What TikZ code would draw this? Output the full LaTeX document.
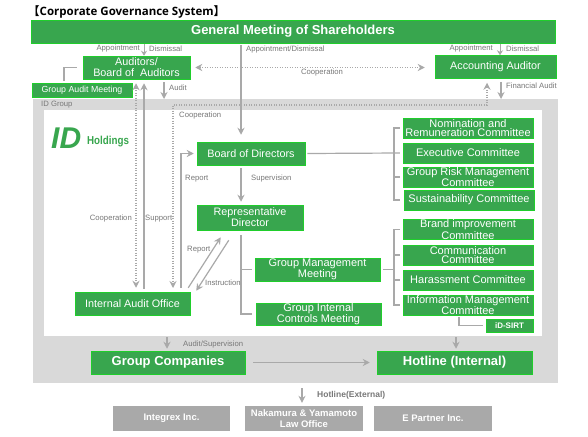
\documentclass[tikz,border=0pt]{standalone}
\usepackage{fontspec}
\setmainfont{Liberation Sans}
\newfontfamily\titlefont{Open Sans}
\newfontfamily\cjk{Noto Sans CJK JP}
\usepackage{xcolor}
\usetikzlibrary{arrows.meta, positioning, calc}
\definecolor{idgreen}{HTML}{38A64E}
\definecolor{idline}{HTML}{A9A9A9}
\definecolor{idtext}{HTML}{787878}
\definecolor{idband}{HTML}{D9D9D9}
\begin{document}
\begin{tikzpicture}[x=1pt,y=-1pt]
\tikzset{
  gb/.style={rectangle,draw=green!45!idgreen,line width=0.5pt,fill=idgreen,text=white,align=center,inner sep=0pt},
  big/.style={gb,font=\fontsize{13}{13}\selectfont\bfseries},
  mid/.style={gb,font=\fontsize{10.8}{11}\selectfont},
  cmte/.style={gb,minimum width=130pt,minimum height=20pt,font=\fontsize{11}{9.8}\selectfont},
  ext/.style={rectangle,draw=none,fill=idline,text=white,align=center,inner sep=0pt,minimum width=118pt,minimum height=25pt,font=\fontsize{9.5}{11.5}\selectfont\bfseries},
  lb/.style={inner sep=0pt,text=idtext,font=\fontsize{7.7}{8}\selectfont},
  ar/.style={-{Stealth[length=7pt,width=7pt]},line width=1.2pt,draw=idline},
  ars/.style={-{Stealth[length=5pt,width=6pt]},line width=0.9pt,draw=idline},
  dt/.style={line width=1.2pt,draw=idline,dash pattern=on 1.2pt off 1.3pt},
  br/.style={line width=1.2pt,draw=idline}
}
\useasboundingbox (0,0) rectangle (588,436);
\fill[white] (0,0) rectangle (588,436);
% frame of the group
\node[rectangle,fill=idband,minimum width=525pt,minimum height=284pt,inner sep=0pt] (idg) at (295.5,241) {};
\node[rectangle,fill=white,minimum width=498pt,minimum height=226pt,inner sep=0pt] (inr) at (293,223) {};
\node[lb,text=idtext,anchor=west] (idl) at (41,105) {ID Group};
% logo
\node[inner sep=0pt,anchor=west,text=idgreen,font=\fontsize{30}{30}\selectfont\bfseries\itshape] (lg) at (51,138) {ID};
\node[inner sep=0pt,anchor=west,text=idgreen,xscale=0.85,font=\fontsize{11.5}{12}\selectfont\bfseries] (lh) at (87,142) {Holdings};
% title
\node[inner sep=0pt,anchor=west,font=\fontsize{11.5}{12}\selectfont\titlefont\bfseries] (ttl) at (28,12) {{\cjk 【}Corporate Governance System{\cjk 】}};
% boxes
\node[big,minimum width=524pt,minimum height=23pt] (gm) at (293,31.5) {General Meeting of Shareholders};
\node[mid,minimum width=107pt,minimum height=23pt] (aud) at (136.5,67.5) {Auditors/\\Board of\ \ Auditors};
\node[gb,minimum width=100pt,minimum height=14pt,font=\fontsize{8.8}{10}\selectfont] (gam) at (82,90) {Group Audit Meeting};
\node[mid,minimum width=121pt,minimum height=23pt] (acc) at (495.5,67) {Accounting Auditor};
\node[mid,minimum width=108pt,minimum height=23pt] (bod) at (251,153.5) {Board of Directors};
\node[mid,minimum width=106pt,minimum height=25pt] (rep) at (250,217.5) {Representative\\Director};
\node[mid,minimum width=115pt,minimum height=23pt] (iao) at (132.5,303.5) {Internal Audit Office};
\node[gb,minimum width=125pt,minimum height=23pt,font=\fontsize{11}{9}\selectfont] (gmm) at (317.5,269.5) {Group Management\\Meeting};
\node[gb,minimum width=125pt,minimum height=22pt,font=\fontsize{11}{9}\selectfont] (gic) at (318.5,314) {Group Internal\\Controls Meeting};
\node[cmte] (c1) at (468,128) {Nomination and\\Remuneration Committee};
\node[cmte] (c2) at (468,153) {Executive Committee};
\node[cmte] (c3) at (468,177) {Group Risk Management\\Committee};
\node[cmte] (c4) at (469,200) {Sustainability Committee};
\node[cmte] (c5) at (468,229.5) {Brand improvement\\Committee};
\node[cmte] (c6) at (468,255) {Communication\\Committee};
\node[cmte] (c7) at (468,280) {Harassment Committee};
\node[cmte] (c8) at (468,305) {Information Management\\Committee};
\node[gb,minimum width=47pt,minimum height=13pt,font=\fontsize{8}{8}\selectfont\bfseries] (sirt) at (509.5,325.5) {iD-SIRT};
\node[big,minimum width=154pt,minimum height=23pt] (grp) at (168,362.5) {Group Companies};
\node[big,minimum width=155pt,minimum height=23pt] (hot) at (454.5,362.5) {Hotline (Internal)};
\node[ext,minimum width=117pt] (e1) at (171.5,418.5) {Integrex Inc.};
\node[ext] (e2) at (304,418.5) {Nakamura \& Yamamoto\\Law Office};
\node[ext] (e3) at (433,418.5) {E Partner Inc.};
% lanes
\coordinate (xs) at (144,0);
\coordinate (xc) at (136,0);
\coordinate (xb) at (241,0);
\coordinate (xa) at (500,0);
\coordinate (xf) at (501,0);
\coordinate (xd) at (487,0);
\coordinate (xg) at (173,0);
\coordinate (xr) at (181,0);
\coordinate (xu) at (164,0);
\coordinate (xl) at (64,0);
\coordinate (xq) at (459,0);
\coordinate (yt) at (0,105);
\coordinate (yp) at (0,288);
\coordinate (yg) at (0,99);
\coordinate (yh) at (0,337);
\coordinate (yx) at (0,388);
\coordinate (br1) at (394,0);
\coordinate (br2) at (241,0);
% arrows from the meeting
\draw[ars,shorten <=1pt] (gm.south -| xs) -- (aud.north -| xs);
\draw[ar,shorten <=2pt,shorten >=7pt] (gm.south -| xb) -- (bod.north -| xb);
\draw[ars,shorten <=1pt] (gm.south -| xa) -- (acc.north -| xa);
\draw[dt,{Stealth[length=7pt,width=7pt]}-{Stealth[length=7pt,width=7pt]},shorten <=5pt,shorten >=10pt] (aud.east) -- (aud.east -| acc.west);
\draw[ar,shorten <=3pt] (aud.south -| xu) -- (xu |- yg);
\draw[ar,shorten <=3pt] (acc.south -| xf) -- (xf |- yg);
\draw[br,shorten <=2pt,shorten >=6pt] (gam.north -| xl) |- (aud.west);
% cooperation and audit lanes
\draw[dt,{Stealth[length=7pt,width=7pt]}-{Stealth[length=7pt,width=7pt]},shorten <=4pt] (acc.south -| xd) -- (xd |- yt) -- (xg |- yt) -- (xg |- yp);
\draw[dt,{Stealth[length=7pt,width=7pt]}-{Stealth[length=7pt,width=7pt]},shorten <=4pt,shorten >=4pt] (aud.south -| xc) -- (iao.north -| xc);
\draw[ar,shorten <=3pt,shorten >=4pt] (iao.north -| xs) -- (aud.south -| xs);
\draw[ar,shorten <=4pt,shorten >=3pt] (iao.north -| xr) |- (bod.west);
\draw[ar,shorten <=3pt,shorten >=3pt] (bod.south -| xb) -- (rep.north -| xb);
\draw[ar] ($(iao.north east)+(-2,-4)$) -- ($(rep.south west)+(24,7)$);
\draw[ar] ($(rep.south west)+(32,10)$) -- ($(iao.north east)+(6,-1)$);
% brackets
\draw[br] ($(bod.east)+(2,0)$) -- ($(c2.west)+(-3,0)$);
\draw[br] ($(c1.west)+(-3,0)$) -- (br1 |- c1.west) -- (br1 |- c4.west) -- ($(c4.west)+(-4,0)$);
\draw[br] (br1 |- c3.west) -- ($(c3.west)+(-3,0)$);
\draw[br,shorten <=3pt] (gmm.east) -- (br1 |- gmm.east);
\draw[br] ($(c5.west)+(-3,0)$) -- (br1 |- c5.west) -- (br1 |- c8.west) -- ($(c8.west)+(-3,0)$);
\draw[br] (br1 |- c6.west) -- ($(c6.west)+(-3,0)$);
\draw[br] (br1 |- c7.west) -- ($(c7.west)+(-3,0)$);
\draw[br,shorten <=5pt] (rep.south -| br2) -- (gic.west -| br2) -- ($(gic.west)+(-4,0)$);
\draw[br] (gmm.west -| br2) -- ($(gmm.west)+(-3,0)$);
\draw[br,shorten <=2pt,shorten >=3pt] (c8.south -| xq) |- (sirt.west);
% bottom
\coordinate (xk) at (167,0);
\coordinate (xh) at (456,0);
\coordinate (xe) at (302,0);
\draw[ar,shorten >=2pt] (xk |- yh) -- (grp.north -| xk);
\draw[ar,shorten >=2pt] (xh |- yh) -- (hot.north -| xh);
\draw[ar,shorten <=8pt,shorten >=7pt] (grp.east) -- (hot.west);
\draw[ar,shorten >=3pt] (xe |- yx) -- (e2.north -| xe);
% labels
\node[lb,anchor=east] (t1) at (140,49) {Appointment};
\node[lb,anchor=west] (t2) at (149,49) {Dismissal};
\node[lb,anchor=west] (t3) at (246,50) {Appointment/Dismissal};
\node[lb,anchor=east] (t4) at (493,49) {Appointment};
\node[lb,anchor=west] (t5) at (506,49) {Dismissal};
\node[lb] (t6) at (322,73) {Cooperation};
\node[lb,anchor=west] (t7) at (169,88) {Audit};
\node[lb,anchor=west] (t8) at (506,86) {Financial Audit};
\node[lb,anchor=west] (t9) at (179,116) {Cooperation};
\node[lb,anchor=west] (t10) at (185,179) {Report};
\node[lb,anchor=west] (t11) at (251,179) {Supervision};
\node[lb,anchor=east] (t12) at (132,219) {Cooperation};
\node[lb,anchor=west] (t13) at (145,219) {Support};
\node[lb,anchor=west] (t14) at (187,250) {Report};
\node[lb,anchor=west] (t15) at (205,283) {Instruction};
\node[lb,anchor=west] (t16) at (183,345) {Audit/Supervision};
\node[lb,anchor=west,font=\fontsize{8.5}{9}\selectfont\bfseries] (t17) at (317,395) {Hotline(External)};
\end{tikzpicture}
\end{document}
